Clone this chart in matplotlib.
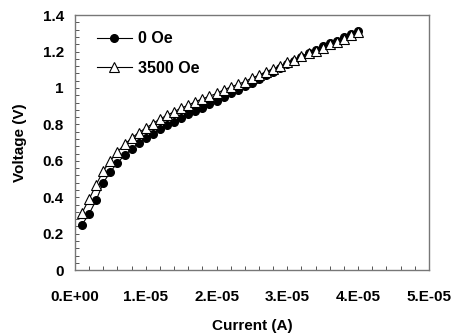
import matplotlib
matplotlib.use("Agg")
import matplotlib.pyplot as plt
from matplotlib.ticker import MultipleLocator

current_uA = list(range(1, 41))  # in units of 1e-6 A
v_0oe = [0.25, 0.31, 0.385, 0.48, 0.54, 0.59, 0.63, 0.665, 0.70, 0.725,
         0.75, 0.775, 0.795, 0.815, 0.835, 0.855, 0.875, 0.89, 0.91, 0.93,
         0.95, 0.97, 0.99, 1.01, 1.03, 1.05, 1.07, 1.09, 1.11, 1.13,
         1.15, 1.17, 1.19, 1.21, 1.23, 1.245, 1.26, 1.28, 1.295, 1.315]
v_3500oe = [0.315, 0.39, 0.47, 0.545, 0.60, 0.65, 0.69, 0.725, 0.755, 0.78,
            0.805, 0.83, 0.85, 0.87, 0.89, 0.905, 0.925, 0.94, 0.955, 0.97,
            0.99, 1.005, 1.02, 1.035, 1.055, 1.07, 1.09, 1.105, 1.12, 1.14,
            1.155, 1.175, 1.19, 1.205, 1.22, 1.24, 1.255, 1.27, 1.29, 1.305]
series_labels = ["0 Oe", "3500 Oe"]
x_tick_labels = ["0.E+00", "1.E-05", "2.E-05", "3.E-05", "4.E-05", "5.E-05"]
y_tick_labels = ["0", "0.2", "0.4", "0.6", "0.8", "1", "1.2", "1.4"]

plt.rcParams['font.family'] = ['Liberation Sans', 'DejaVu Sans']
plt.rcParams['font.weight'] = 'bold'

fig = plt.figure(figsize=(4.56, 3.36), dpi=100)
ax = fig.add_axes([0.1645, 0.196, 0.776, 0.759])

x = [c * 1e-6 for c in current_uA]
ax.plot(x, v_0oe, '-o', color='black', lw=0.8, ms=5.5, mfc='black', mec='black',
        label=series_labels[0], zorder=3)
ax.plot(x, v_3500oe, '-^', color='black', lw=0.8, ms=6.5, mfc='white', mec='black',
        mew=0.8, label=series_labels[1], zorder=4)

ax.set_xlim(0, 5e-5)
ax.set_ylim(0, 1.4)
ax.set_xticks([i * 1e-5 for i in range(6)])
ax.set_xticklabels(x_tick_labels)
ax.set_yticks([i * 0.2 for i in range(8)])
ax.set_yticklabels(y_tick_labels)
ax.xaxis.set_minor_locator(MultipleLocator(2e-6))
ax.yaxis.set_minor_locator(MultipleLocator(0.04))
ax.tick_params(axis='both', which='both', direction='in', length=3, width=0.7,
               color='#555555', labelsize=11)
ax.tick_params(axis='x', which='major', pad=14)
ax.tick_params(axis='y', which='major', pad=8)
ax.tick_params(top=False, right=False, which='both')
for s in ax.spines.values():
    s.set_color('#777777')
    s.set_linewidth(1.0)

ax.set_xlabel("Current (A)", fontsize=11, fontweight='bold', labelpad=11)
ax.set_ylabel("Voltage (V)", fontsize=11, fontweight='bold', labelpad=11)

leg = ax.legend(loc='upper left', frameon=False, fontsize=11.5, handlelength=2.2,
                labelspacing=0.9, handletextpad=0.4, borderaxespad=0.3,
                bbox_to_anchor=(0.03, 0.98))

fig.savefig("out.png", dpi=100)
